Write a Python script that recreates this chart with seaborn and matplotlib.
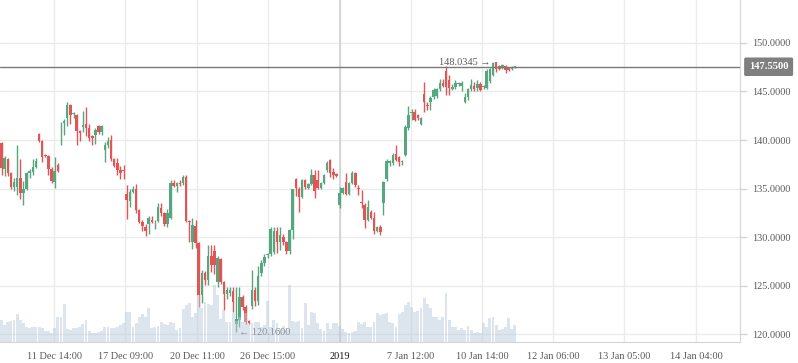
import matplotlib
matplotlib.use("Agg")
import matplotlib.pyplot as plt
import numpy as np
import seaborn as sns

# hourly candles
opens = [
    139.7, 137.0, 138.0, 136.6, 135.2, 135.2, 136.1, 134.5, 135.0, 136.6,
    136.7, 137.2, 140.6, 139.9, 138.5, 138.4, 137.0, 135.7, 137.4, 141.6,
    141.8, 142.3, 143.6, 142.7, 142.6, 140.9, 141.3, 141.6, 141.2, 140.4,
    140.5, 141.4, 140.8, 139.0, 139.5, 140.0, 138.0, 137.6, 136.9, 136.9,
    134.4, 133.7, 134.6, 135.0, 132.8, 131.5, 131.0, 131.3, 131.8, 131.6,
    131.6, 133.0, 132.5, 131.3, 132.0, 135.6, 135.3, 135.6, 135.6, 136.2,
    131.6, 129.5, 131.1, 129.4, 124.0, 126.3, 125.6, 128.0, 128.6, 125.4,
    127.7, 125.4, 124.1, 124.2, 124.4, 121.0, 121.4, 123.8, 122.8, 121.3,
    122.9, 124.5, 123.4, 126.3, 127.3, 128.1, 128.3, 128.5, 130.6, 129.5,
    130.0, 129.5, 128.6, 130.7, 136.0, 134.9, 134.1, 135.9, 135.1, 135.5,
    136.4, 135.9, 135.1, 135.6, 136.9, 137.9, 136.7, 136.5, 133.3, 134.5,
    135.7, 134.4, 135.6, 136.6, 135.1, 133.6, 133.3, 131.8, 132.6, 132.0,
    130.6, 131.0, 133.5, 136.0, 137.6, 137.6, 138.6, 138.2, 137.7, 138.5,
    141.2, 142.8, 142.9, 142.6, 141.7, 144.7, 143.6, 143.9, 144.4, 144.5,
    145.3, 145.9, 147.1, 146.2, 145.3, 145.5, 145.8, 145.6, 143.9, 144.4,
    145.3, 145.6, 145.4, 145.8, 145.5, 145.4, 146.1, 146.7, 148.0, 147.6,
    147.5, 147.6, 147.4, 147.3, 147.5,
]
highs = [
    139.8, 138.3, 138.1, 136.7, 136.1, 139.5, 138.0, 135.8, 136.7, 137.0,
    138.0, 138.1, 140.7, 140.0, 138.6, 138.5, 137.2, 138.2, 137.6, 141.9,
    142.2, 143.9, 143.7, 142.9, 142.7, 141.0, 143.0, 143.4, 141.6, 140.5,
    141.2, 141.5, 141.5, 139.8, 140.3, 140.5, 138.1, 138.1, 137.3, 137.4,
    135.4, 134.9, 135.3, 135.5, 132.9, 131.8, 131.3, 132.2, 132.2, 131.8,
    133.5, 133.5, 132.6, 132.9, 135.9, 135.9, 135.7, 135.9, 136.4, 136.4,
    131.8, 132.0, 131.8, 129.5, 126.6, 126.5, 129.2, 129.2, 129.2, 128.0,
    127.8, 125.5, 124.9, 124.8, 124.8, 124.8, 124.9, 124.0, 123.0, 121.4,
    126.6, 124.8, 127.0, 127.6, 128.2, 128.4, 131.0, 131.0, 131.0, 131.0,
    130.3, 129.6, 130.8, 135.0, 136.1, 135.2, 136.0, 136.0, 135.6, 137.0,
    136.9, 136.9, 135.7, 136.5, 137.8, 138.0, 137.1, 136.6, 135.2, 135.2,
    136.6, 135.7, 136.8, 136.7, 135.4, 134.8, 133.5, 133.8, 132.8, 132.6,
    131.1, 131.2, 135.8, 138.0, 137.9, 138.7, 139.5, 138.3, 137.9, 141.5,
    143.5, 143.2, 143.2, 142.7, 142.4, 146.0, 143.9, 144.5, 145.4, 145.4,
    146.3, 146.3, 147.6, 146.7, 145.8, 146.2, 146.0, 146.1, 144.8, 145.4,
    146.3, 146.0, 146.2, 146.0, 145.7, 147.3, 147.4, 148.0345, 148.03, 147.7,
    147.8, 147.7, 147.5, 147.6, 147.6,
]
lows = [
    136.4, 136.3, 136.3, 134.9, 134.7, 134.3, 133.9, 133.3, 134.8, 136.1,
    136.4, 137.1, 139.8, 137.7, 138.2, 136.4, 135.6, 135.1, 136.7, 139.5,
    140.5, 141.4, 141.7, 142.3, 139.5, 139.9, 140.8, 140.4, 139.9, 139.5,
    139.6, 140.6, 140.5, 137.7, 139.2, 137.8, 137.2, 136.4, 136.0, 136.0,
    131.9, 133.1, 134.5, 132.5, 131.4, 130.6, 130.1, 130.3, 131.4, 130.8,
    131.5, 132.2, 131.1, 131.0, 131.9, 135.2, 134.6, 135.3, 135.4, 131.5,
    129.5, 128.8, 128.9, 122.8, 123.2, 125.1, 125.1, 126.4, 126.2, 124.9,
    125.2, 122.5, 123.6, 123.9, 122.3, 120.16, 120.7, 122.5, 121.0, 121.0,
    122.6, 122.9, 123.0, 126.0, 127.0, 127.8, 128.0, 128.2, 128.4, 128.7,
    129.2, 128.3, 128.2, 129.8, 134.2, 132.6, 134.0, 134.9, 135.0, 135.4,
    134.0, 135.0, 135.0, 135.5, 136.7, 136.2, 136.0, 136.2, 133.0, 134.4,
    134.3, 134.3, 135.5, 135.2, 134.3, 133.0, 130.9, 131.7, 131.9, 130.3,
    130.5, 130.2, 132.3, 135.8, 137.3, 137.4, 137.8, 137.3, 137.4, 138.3,
    141.0, 142.1, 142.0, 142.1, 141.5, 142.9, 143.1, 143.1, 144.2, 144.3,
    145.1, 145.5, 144.6, 144.6, 145.2, 145.3, 145.6, 145.0, 143.8, 144.1,
    145.0, 145.0, 145.0, 145.0, 145.3, 145.3, 145.9, 146.6, 147.0, 147.2,
    147.3, 146.9, 147.1, 147.2, 147.45,
]
closes = [
    137.1, 138.1, 136.6, 135.2, 135.7, 136.1, 134.5, 135.0, 136.6, 136.8,
    137.2, 137.8, 139.9, 138.2, 138.3, 137.0, 135.8, 136.8, 136.8, 141.7,
    142.0, 143.6, 142.6, 142.8, 140.9, 140.7, 141.5, 141.2, 140.2, 140.2,
    141.0, 140.8, 141.4, 139.5, 139.9, 138.0, 137.3, 136.9, 136.6, 136.8,
    133.8, 134.6, 135.0, 132.8, 131.5, 131.1, 130.6, 132.0, 131.5, 131.7,
    133.1, 132.5, 131.3, 132.5, 135.6, 135.3, 135.6, 135.5, 136.2, 131.6,
    131.5, 131.2, 129.4, 124.0, 126.3, 125.6, 128.0, 127.1, 127.1, 127.8,
    125.4, 124.1, 124.5, 124.5, 123.3, 121.5, 123.8, 122.8, 121.2, 121.1,
    124.5, 123.4, 126.0, 127.3, 127.9, 128.3, 130.8, 130.6, 129.5, 130.2,
    129.5, 128.6, 130.7, 134.9, 135.1, 134.1, 135.9, 135.2, 135.5, 136.4,
    134.7, 135.1, 135.6, 136.4, 137.6, 136.6, 136.4, 136.3, 134.5, 135.1,
    134.4, 135.6, 136.6, 135.4, 135.0, 133.5, 131.8, 133.1, 132.0, 130.6,
    131.0, 130.5, 135.7, 137.8, 137.8, 138.5, 137.9, 137.7, 137.8, 141.3,
    142.6, 142.9, 142.1, 142.3, 142.3, 143.9, 143.5, 144.3, 145.2, 145.3,
    145.9, 145.6, 145.5, 145.4, 145.5, 145.9, 145.9, 145.9, 144.4, 145.3,
    145.7, 145.3, 145.8, 145.2, 145.6, 147.1, 147.3, 147.9, 147.3, 147.3,
    147.7, 147.2, 147.2, 147.5, 147.55,
]
volumes = [
    22, 17, 20, 21, 22, 28, 22, 19, 15, 14,
    15, 15, 15, 14, 11, 11, 9, 14, 25, 25,
    38, 13, 12, 14, 14, 15, 18, 22, 11, 9,
    9, 10, 11, 15, 15, 14, 14, 15, 17, 19,
    30, 30, 15, 19, 25, 28, 25, 34, 14, 15,
    16, 20, 18, 17, 20, 19, 12, 14, 33, 37,
    39, 25, 29, 47, 34, 40, 38, 37, 57, 47,
    23, 32, 20, 20, 29, 21, 25, 20, 29, 18,
    19, 20, 20, 15, 17, 41, 15, 22, 19, 13,
    16, 12, 57, 21, 20, 21, 14, 39, 17, 30,
    29, 19, 13, 11, 19, 13, 19, 19, 16, 13,
    10, 9, 10, 11, 20, 18, 20, 15, 15, 20,
    29, 27, 28, 29, 20, 19, 15, 28, 30, 37,
    40, 35, 30, 31, 34, 44, 38, 34, 25, 25,
    22, 25, 49, 22, 15, 15, 12, 14, 12, 16,
    12, 9, 10, 9, 19, 15, 24, 25, 17, 12,
    13, 15, 24, 13, 17,
]
tick_pos = [16.8, 39.5, 62.5, 85.1, 108.1, 130.8, 153.5, 176.2, 198.9, 221.9]
tick_labels = ['11 Dec 14:00', '17 Dec 09:00', '20 Dec 11:00', '26 Dec 15:00', '2019',
               '7 Jan 12:00', '10 Jan 14:00', '12 Jan 06:00', '13 Jan 05:00', '14 Jan 04:00']
price_ticks = [120, 125, 130, 135, 140, 145, 150]
last_price = 147.55
high_mark = 148.0345
low_mark = 120.16

sns.set_style('white')
plt.rcParams['font.family'] = ['Liberation Serif', 'DejaVu Serif']

UP = '#56a77f'
DOWN = '#e25555'
GRID = '#ebebeb'
TXT = '#5a5a5a'

o = np.array(opens)
h = np.array(highs)
l = np.array(lows)
c = np.array(closes)
x = np.arange(len(o))
colors = [UP if cc >= oo else DOWN for oo, cc in zip(o, c)]

fig = plt.figure(figsize=(7.98, 3.63), dpi=100)
ax = fig.add_axes([0, 21 / 363, 740 / 798, 342 / 363])

# volume on a hidden twin axis (drawn over the candles, semi transparent)
ax2 = ax.twinx()
sns.barplot(x=x, y=volumes, native_scale=True, ax=ax2, color='#b4cae4', alpha=0.5,
            errorbar=None, width=0.92, linewidth=0)
ax2.set_ylim(0, 342)
ax2.set_xlabel('')
ax2.set_ylabel('')
ax2.set_yticks([])
ax2.tick_params(axis='x', length=0, labelbottom=False)
for side in ax2.spines:
    ax2.spines[side].set_visible(False)

# candles
ax.vlines(x, l, h, colors=colors, linewidth=1, zorder=3)
body = np.maximum(np.abs(c - o), 0.08)
ax.bar(x, body, bottom=np.minimum(o, c), width=0.8, color=colors, linewidth=0, zorder=4)

# last price line
ax.axhline(last_price, color='#7a7a7a', linewidth=1, zorder=5)

ax.set_xlim(-0.48, 235.9)
ax.set_ylim(119.18, 154.43)

ax.set_xticks(tick_pos)
ax.set_xticklabels(tick_labels)
for lab in ax.get_xticklabels():
    lab.set_color('#111111' if lab.get_text() == '2019' else TXT)
ax.yaxis.tick_right()
ax.yaxis.set_label_position('right')
ax.set_yticks(price_ticks)
ax.set_yticklabels([f'{v:.4f}' for v in price_ticks])
ax.tick_params(axis='x', length=0, pad=7, labelsize=7.4)
ax.tick_params(axis='y', length=5, width=1, color='#d5d5d5', pad=4, labelsize=7.4,
               labelcolor=TXT, right=True, labelright=True, left=False, labelleft=False)
ax.grid(True, color=GRID, linewidth=1, zorder=0)
ax.axvline(tick_pos[4], color='#d0d0d0', linewidth=1.2, zorder=1)
for side in ['top', 'left']:
    ax.spines[side].set_visible(False)
for side in ['right', 'bottom']:
    ax.spines[side].set_color('#d5d5d5')

# annotations for high / low
ax.text(x[157] - 0.8, high_mark, '148.0345 \u2192', ha='right', va='center',
        fontsize=7.4, color=TXT, zorder=6)
ax.text(x[75] + 0.8, low_mark, '\u2190 120.1600', ha='left', va='center',
        fontsize=7.4, color=TXT, zorder=6)

# price tag on the axis
ax.text(1.012, last_price, '147.5500', transform=ax.get_yaxis_transform(),
        ha='left', va='center', fontsize=7.6, color='white', fontweight='bold',
        bbox=dict(boxstyle='round,pad=0.45,rounding_size=0.15', fc='#7f7f7f', ec='none'),
        clip_on=False, zorder=10)

fig.savefig('out.png', dpi=100)
